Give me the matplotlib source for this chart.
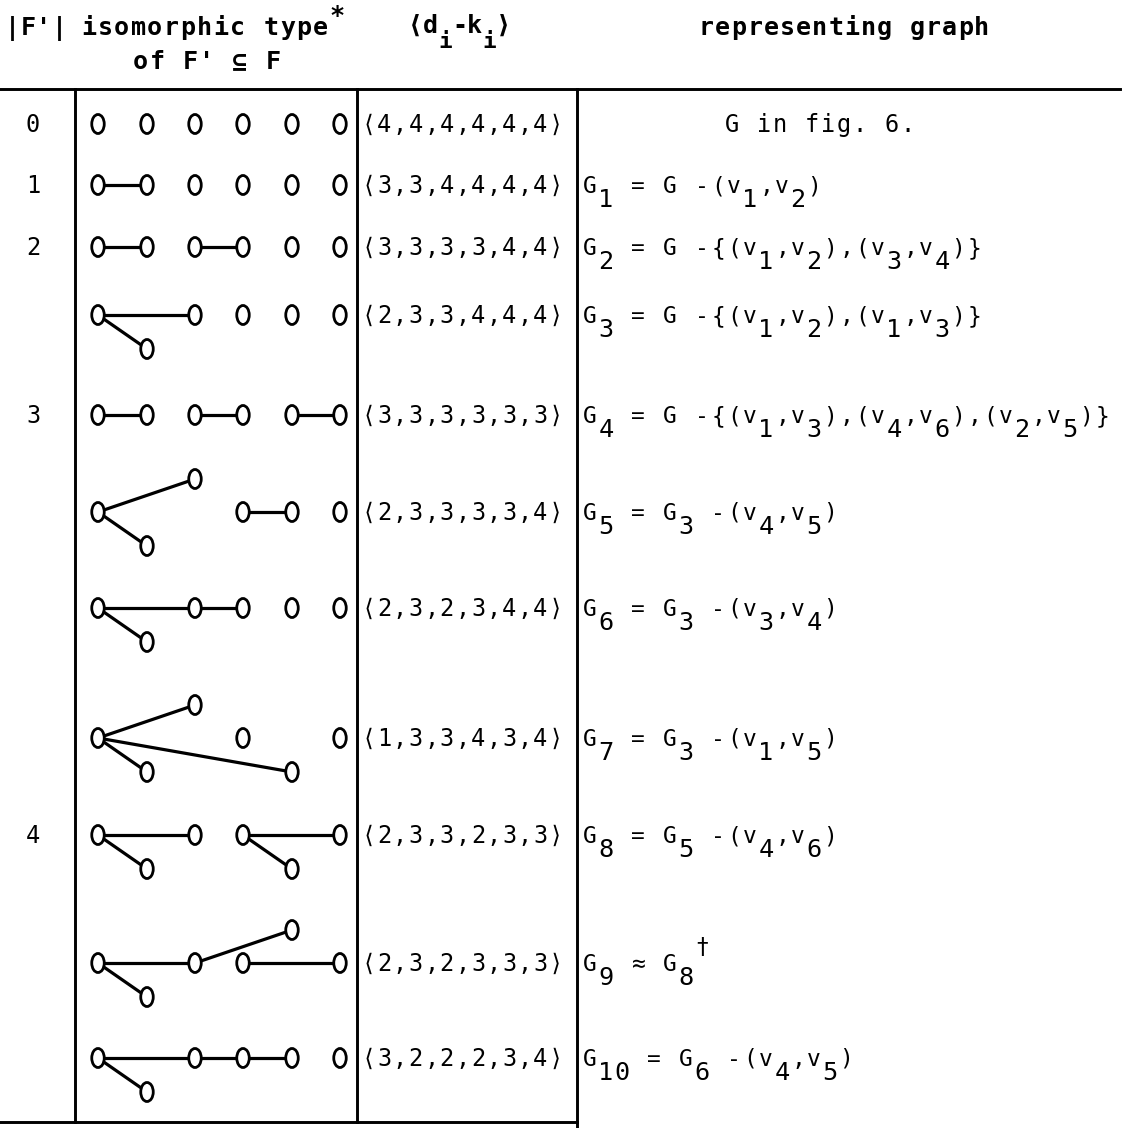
import matplotlib
matplotlib.use("Agg")
import matplotlib.pyplot as plt
from matplotlib.patches import Ellipse

# ---- table content ----
size_labels = ["0", "1", "2", "", "3", "", "", "", "4", "", ""]

# degree sequences <d_i - k_i>
deg_seqs = [
    [4, 4, 4, 4, 4, 4],
    [3, 3, 4, 4, 4, 4],
    [3, 3, 3, 3, 4, 4],
    [2, 3, 3, 4, 4, 4],
    [3, 3, 3, 3, 3, 3],
    [2, 3, 3, 3, 3, 4],
    [2, 3, 2, 3, 4, 4],
    [1, 3, 3, 4, 3, 4],
    [2, 3, 3, 2, 3, 3],
    [2, 3, 2, 3, 3, 3],
    [3, 2, 2, 2, 3, 4],
]

# representing graph, "_x" = subscript, "^x" = superscript
formulas = [
    "G in fig. 6.",
    "G_1 = G -(v_1,v_2)",
    "G_2 = G -{(v_1,v_2),(v_3,v_4)}",
    "G_3 = G -{(v_1,v_2),(v_1,v_3)}",
    "G_4 = G -{(v_1,v_3),(v_4,v_6),(v_2,v_5)}",
    "G_5 = G_3 -(v_4,v_5)",
    "G_6 = G_3 -(v_3,v_4)",
    "G_7 = G_3 -(v_1,v_5)",
    "G_8 = G_5 -(v_4,v_6)",
    "G_9 ≈ G_8^†",
    "G_{10} = G_6 -(v_4,v_5)",
]

# isomorphic types: vertices as (slot, level) with level -1 up / 0 mid / 1 down
iso_vertices = [
    [(0, 0), (1, 0), (2, 0), (3, 0), (4, 0), (5, 0)],
    [(0, 0), (1, 0), (2, 0), (3, 0), (4, 0), (5, 0)],
    [(0, 0), (1, 0), (2, 0), (3, 0), (4, 0), (5, 0)],
    [(0, 0), (1, 1), (2, 0), (3, 0), (4, 0), (5, 0)],
    [(0, 0), (1, 0), (2, 0), (3, 0), (4, 0), (5, 0)],
    [(0, 0), (1, 1), (2, -1), (3, 0), (4, 0), (5, 0)],
    [(0, 0), (1, 1), (2, 0), (3, 0), (4, 0), (5, 0)],
    [(0, 0), (1, 1), (2, -1), (3, 0), (4, 1), (5, 0)],
    [(0, 0), (1, 1), (2, 0), (3, 0), (4, 1), (5, 0)],
    [(0, 0), (1, 1), (2, 0), (4, -1), (3, 0), (5, 0)],
    [(0, 0), (1, 1), (2, 0), (3, 0), (4, 0), (5, 0)],
]
iso_edges = [
    [],
    [(0, 1)],
    [(0, 1), (2, 3)],
    [(0, 1), (0, 2)],
    [(0, 1), (2, 3), (4, 5)],
    [(0, 1), (0, 2), (3, 4)],
    [(0, 1), (0, 2), (2, 3)],
    [(0, 1), (0, 2), (0, 4)],
    [(0, 1), (0, 2), (3, 4), (3, 5)],
    [(0, 1), (0, 2), (2, 3), (4, 5)],
    [(0, 1), (0, 2), (2, 3), (3, 4)],
]

# ---- layout (pixel space) ----
W, H = 1134, 1128
row_y = [124, 185, 247, 315, 415, 512, 608, 738, 835, 963, 1058]
slot_x = [98, 147, 195, 243, 292, 340]
level_dy = {-1: -33, 0: 0, 1: 34}
col_lines = [75, 357, 577]
head_line_y = 89
bottom_y = 1122

MONO = ["DejaVu Sans Mono", "DejaVu Sans"]


def parse(s):
    parts = []
    i = 0
    while i < len(s):
        c = s[i]
        if c in "_^":
            kind = "s" if c == "_" else "p"
            if s[i + 1] == "{":
                j = s.index("}", i)
                parts.append((s[i + 2:j], kind))
                i = j + 1
            else:
                parts.append((s[i + 1], kind))
                i += 2
        else:
            parts.append((c, "n"))
            i += 1
    return parts


def typeset(ax, x, base, parts, cell, size, weight="normal",
            sub_dy=11, sup_dy=-13, sub_scale=1.0):
    # one glyph per typewriter cell
    for text, kind in parts:
        for ch in text:
            if ch != " ":
                dy = {"n": 0, "s": sub_dy, "p": sup_dy}[kind]
                sz = size * (sub_scale if kind == "s" else 1.0)
                ax.text(x + cell / 2, base + dy, ch, ha="center", va="baseline",
                        fontsize=sz, family=MONO, weight=weight, color="black")
            x += cell
    return x


fig = plt.figure(figsize=(W / 100, H / 100), dpi=100)
ax = fig.add_axes([0, 0, 1, 1])
ax.set_xlim(0, W)
ax.set_ylim(H, 0)
ax.axis("off")

lw_rule = 2.1
ax.plot([0, 1120], [head_line_y, head_line_y], color="black", lw=lw_rule)
ax.plot([0, col_lines[2]], [bottom_y, bottom_y], color="black", lw=lw_rule)
for i, cx in enumerate(col_lines):
    ax.plot([cx, cx], [head_line_y, H if i == 2 else bottom_y], color="black", lw=lw_rule)

# header
hs = 18
typeset(ax, 5, 35, parse("|F'|"), 15.5, hs, "bold")
typeset(ax, 80, 35, parse("isomorphic type^*"), 16.6, hs, "bold", sup_dy=-12)
typeset(ax, 132, 69, parse("of F' ⊆ F"), 16.6, hs, "bold")
typeset(ax, 408, 33, parse("⟨d_i-k_i⟩"), 14.7, hs, "bold", sub_dy=15, sub_scale=0.9)
head_txt = "representing graph"
typeset(ax, 844 - len(head_txt) * 16.2 / 2, 35, parse(head_txt), 16.2, hs, "bold")

body = 16.5
for r, y in enumerate(row_y):
    base = y + 8
    if size_labels[r]:
        ax.text(33, base, size_labels[r], ha="center", va="baseline",
                fontsize=17, family=MONO)
    seq = "⟨" + ",".join(str(v) for v in deg_seqs[r]) + "⟩"
    typeset(ax, 361, base, parse(seq), 15.6, 17)
    parts = parse(formulas[r])
    if r == 0:
        x0 = 820 - len(formulas[r]) * 16 / 2
        typeset(ax, x0, base, parts, 16.0, 17)
    else:
        typeset(ax, 582, base, parts, 16.0, body, sub_dy=14, sup_dy=-17,
                sub_scale=1.1)

    pts = [(slot_x[s], y + level_dy[lv]) for s, lv in iso_vertices[r]]
    for a, b in iso_edges[r]:
        ax.plot([pts[a][0], pts[b][0]], [pts[a][1], pts[b][1]],
                color="black", lw=2.3, solid_capstyle="butt", zorder=2)
    for px, py in pts:
        ax.add_patch(Ellipse((px, py), 12.5, 19, facecolor="white",
                             edgecolor="black", lw=2.0, zorder=3))

fig.savefig("out.png", dpi=100)
